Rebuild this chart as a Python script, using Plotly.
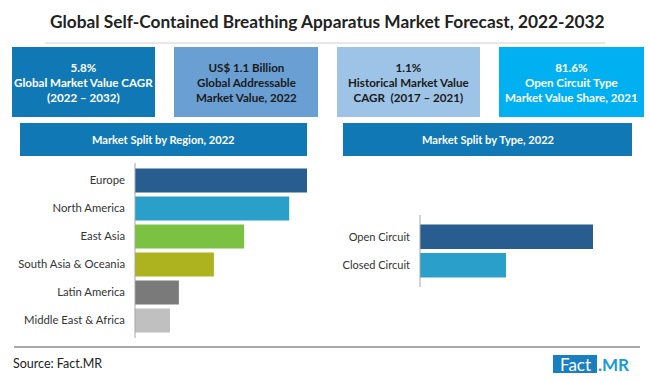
import plotly.graph_objects as go

W, H = 650, 381

title = "Global Self-Contained Breathing Apparatus Market Forecast, 2022-2032"

kpi_texts = [
    "5.8%<br>Global Market Value CAGR<br>(2022 – 2032)",
    "US$ 1.1 Billion<br>Global Addressable<br>Market Value, 2022",
    "1.1%<br>Historical Market Value<br>CAGR  (2017 – 2021)",
    "81.6%<br>Open Circuit Type<br>Market Value Share, 2021",
]
kpi_colors = ["#0f78b5", "#6a9fd4", "#9dc3e6", "#00b0f0"]
kpi_font_colors = ["white", "#1a1a1a", "#1a1a1a", "white"]

regions = ["Europe", "North America", "East Asia", "South Asia & Oceania",
           "Latin America", "Middle East & Africa"]
region_values = [29.0, 26.0, 18.4, 13.3, 7.4, 5.9]
region_colors = ["#275e8f", "#2a9fc9", "#7cc242", "#adb21f", "#7a7a7a", "#c0c0c0"]

types = ["Open Circuit", "Closed Circuit"]
type_values = [66.8, 33.2]
type_colors = ["#275e8f", "#2a9fc9"]

FONT = "Lato"


def px(x):
    return x / W


def py(y):
    return 1 - y / H


fig = go.Figure()

fig.add_trace(go.Bar(
    x=region_values, y=regions, orientation="h",
    marker=dict(color=region_colors, line=dict(width=0)),
    xaxis="x", yaxis="y", hoverinfo="x+y", showlegend=False,
))
fig.add_trace(go.Bar(
    x=type_values, y=types, orientation="h",
    marker=dict(color=type_colors, line=dict(width=0)),
    xaxis="x2", yaxis="y2", hoverinfo="x+y", showlegend=False,
))

shapes = []
annotations = []

# title
annotations.append(dict(text="<b>" + title + "</b>", x=px(327), y=py(22),
                        xref="paper", yref="paper", showarrow=False,
                        font=dict(family=FONT, size=17.3, color="#222222"),
                        xanchor="center", yanchor="middle"))
shapes.append(dict(type="line", xref="paper", yref="paper",
                   x0=px(45), x1=px(605), y0=py(43), y1=py(43),
                   line=dict(color="#d0d0d0", width=1)))

# KPI boxes
box_x = [(12, 155), (174, 318), (337, 480), (499, 644)]
for (x0, x1), t, c, fc in zip(box_x, kpi_texts, kpi_colors, kpi_font_colors):
    shapes.append(dict(type="rect", xref="paper", yref="paper",
                       x0=px(x0), x1=px(x1), y0=py(117), y1=py(47),
                       fillcolor=c, line=dict(width=0), layer="below"))
    annotations.append(dict(text="<b>" + t + "</b>", x=px((x0 + x1) / 2), y=py(82),
                            xref="paper", yref="paper", showarrow=False,
                            font=dict(family=FONT, size=11.6, color=fc),
                            xanchor="center", yanchor="middle"))

# section headers
for (x0, x1), t in [((20, 307), "Market Split by Region, 2022"),
                    ((343, 632), "Market Split by Type, 2022")]:
    shapes.append(dict(type="rect", xref="paper", yref="paper",
                       x0=px(x0), x1=px(x1), y0=py(156), y1=py(123),
                       fillcolor="#0f78b5", line=dict(width=0), layer="below"))
    annotations.append(dict(text="<b>" + t + "</b>", x=px((x0 + x1) / 2), y=py(139.5),
                            xref="paper", yref="paper", showarrow=False,
                            font=dict(family=FONT, size=11.1, color="white"),
                            xanchor="center", yanchor="middle"))

# axis lines
shapes.append(dict(type="line", xref="paper", yref="paper",
                   x0=px(135), x1=px(135), y0=py(163), y1=py(338),
                   line=dict(color="#a6a6a6", width=1)))
shapes.append(dict(type="line", xref="paper", yref="paper",
                   x0=px(420), x1=px(420), y0=py(215), y1=py(287),
                   line=dict(color="#a6a6a6", width=1)))

# bottom rule
shapes.append(dict(type="line", xref="paper", yref="paper",
                   x0=px(14), x1=px(640), y0=py(347), y1=py(347),
                   line=dict(color="#555555", width=1)))

# source
annotations.append(dict(text="Source: Fact.MR", x=px(11), y=py(363),
                        xref="paper", yref="paper", showarrow=False,
                        font=dict(family=FONT, size=12.5, color="#222222"),
                        xanchor="left", yanchor="middle"))

# logo
shapes.append(dict(type="rect", xref="paper", yref="paper",
                   x0=px(553), x1=px(597), y0=py(373), y1=py(355),
                   fillcolor="#1a7fc0", line=dict(width=0), layer="below"))
annotations.append(dict(text="Fact", x=px(575), y=py(364),
                        xref="paper", yref="paper", showarrow=False,
                        font=dict(family=FONT, size=17, color="white"),
                        xanchor="center", yanchor="middle"))
annotations.append(dict(text="<b>.MR</b>", x=px(596), y=py(364),
                        xref="paper", yref="paper", showarrow=False,
                        font=dict(family=FONT, size=17, color="#1a9ad6"),
                        xanchor="left", yanchor="middle"))

fig.update_layout(
    width=W, height=H,
    margin=dict(l=0, r=0, t=0, b=0),
    paper_bgcolor="white", plot_bgcolor="white",
    bargap=0.14,
    showlegend=False,
    xaxis=dict(domain=[px(135), px(307)], range=[0, region_values[0]],
               visible=False, fixedrange=True),
    yaxis=dict(domain=[py(334.5), py(166.5)], autorange="reversed",
               showline=False, showgrid=False, zeroline=False, ticks="",
               ticklabelstandoff=9,
               tickfont=dict(family=FONT, size=11.3, color="#333333"),
               anchor="x"),
    xaxis2=dict(domain=[px(420), px(593)], range=[0, type_values[0]],
                visible=False, fixedrange=True, anchor="y2"),
    yaxis2=dict(domain=[py(279.5), py(222.5)], autorange="reversed",
                showline=False, showgrid=False, zeroline=False, ticks="",
                ticklabelstandoff=9,
                tickfont=dict(family=FONT, size=11, color="#333333"),
                anchor="x2"),
    shapes=shapes,
    annotations=annotations,
)

fig.write_html(
    "out.html",
    config={"displayModeBar": False},
    post_script="document.body.style.margin='0';document.body.style.padding='0';",
)
